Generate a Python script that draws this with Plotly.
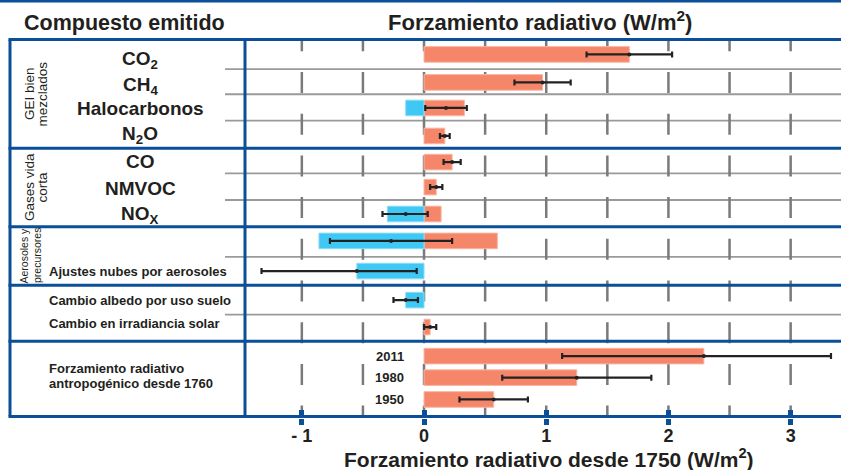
import plotly.graph_objects as go

# rows, top to bottom
rows = ["CO2", "CH4", "Halocarbonos", "N2O", "CO", "NMVOC", "NOx",
        "Aerosoles", "Ajustes nubes", "Albedo", "Solar", "2011", "1980", "1950"]

# positive / negative components (W/m2)
warm = [1.68, 0.97, 0.33, 0.17, 0.23, 0.10, 0.14, 0.60, None, None, 0.05, 2.29, 1.25, 0.57]
cool = [None, None, -0.15, None, None, None, -0.30, -0.86, -0.55, -0.15, None, None, None, None]

# best estimate and uncertainty range
best = [1.68, 0.97, 0.18, 0.17, 0.23, 0.10, -0.15, -0.27, -0.55, -0.15, 0.05, 2.29, 1.25, 0.57]
low = [1.33, 0.74, 0.01, 0.13, 0.16, 0.05, -0.34, -0.77, -1.33, -0.25, 0.00, 1.13, 0.64, 0.29]
high = [2.03, 1.20, 0.35, 0.21, 0.30, 0.15, 0.03, 0.23, -0.06, -0.05, 0.10, 3.33, 1.86, 0.85]

tick_vals = [-1, 0, 1, 2, 3]
tick_text = ["- 1", "0", "1", "2", "3"]
grid_vals = [-1, -0.5, 0, 0.5, 1, 1.5, 2, 2.5, 3]

# layout: row centres and separators in row units (0 = top frame, 14 = bottom frame)
row_pos = [0.55, 1.59, 2.54, 3.58, 4.55, 5.48, 6.48, 7.48, 8.60, 9.68, 10.68, 11.76, 12.56, 13.37]
thin_sep = [1.10, 2.03, 3.01, 4.97, 5.96, 8.07, 10.22]
thick_sep = [0, 4.04, 6.95, 9.13, 11.21, 14]

W, H = 841, 470
ML, MR, MT, MB = 245, 0, 38, 52
PW, PH = W - ML - MR, H - MT - MB
Y0, Y1 = -0.06, 14.06

BLUE = "#0b4f98"
ORANGE = "#f5866a"
CYAN = "#40c8f4"
TXT = "#231f20"
FONT = "Liberation Sans, Arial, sans-serif"


def px(xp):
    return (xp - ML) / PW


def py(yp):
    return (MT + PH - yp) / PH


def ry(yp):
    return Y0 + (yp - MT) / PH * (Y1 - Y0)


fig = go.Figure()

fig.add_trace(go.Bar(y=row_pos, x=warm, orientation="h", width=0.58,
                     marker=dict(color=ORANGE, line=dict(color="#f9b6a2", width=1)),
                     hoverinfo="skip"))
fig.add_trace(go.Bar(y=row_pos, x=cool, orientation="h", width=0.58,
                     marker=dict(color=CYAN, line=dict(color="#8fdcf7", width=1)),
                     hoverinfo="skip"))

err_plus = [h - b for h, b in zip(high, best)]
err_minus = [b - l for b, l in zip(best, low)]
fig.add_trace(go.Scatter(
    x=best, y=row_pos, mode="markers",
    marker=dict(color="#222222", size=4),
    error_x=dict(type="data", symmetric=False, array=err_plus, arrayminus=err_minus,
                 color="#222222", thickness=2.2, width=3),
    hoverinfo="skip"))

shapes = []
# dashed vertical grid
for g in grid_vals:
    shapes.append(dict(type="line", xref="x", yref="y", x0=g, x1=g, y0=ry(30.3), y1=14,
                       line=dict(color="#7a7a7a", width=2.5, dash="21px,20.7px"), layer="below"))
# thin grey separators
for s in thin_sep:
    shapes.append(dict(type="line", xref="paper", yref="y", x0=px(225), x1=1, y0=s, y1=s,
                       line=dict(color="#9a9a9a", width=1.8), layer="below"))
# thick blue separators
for s in thick_sep:
    shapes.append(dict(type="line", xref="paper", yref="y", x0=px(8.5), x1=1, y0=s, y1=s,
                       line=dict(color=BLUE, width=3)))
# vertical frame lines
for xv in [10, 245]:
    shapes.append(dict(type="line", xref="paper", yref="y", x0=px(xv), x1=px(xv), y0=0, y1=14,
                       line=dict(color=BLUE, width=3)))
# top strip of the page
shapes.append(dict(type="line", xref="paper", yref="paper", x0=px(0), x1=1, y0=py(1), y1=py(1),
                   line=dict(color=BLUE, width=3)))

ann = []


def add_text(text, x, y, size, bold=True, xanchor="center", yref="y", angle=0):
    ann.append(dict(text=text, x=x, y=y, xref="paper", yref=yref, showarrow=False,
                    xanchor=xanchor, yanchor="middle", textangle=angle,
                    font=dict(family=FONT, size=size, color=TXT,
                              weight="bold" if bold else "normal")))


add_text("Compuesto emitido", px(124.5), py(23), 21.5, yref="paper")
add_text("Forzamiento radiativo (W/m<sup>2</sup>)", px(540), py(21), 22, yref="paper")
add_text("Forzamiento radiativo desde 1750 (W/m<sup>2</sup>)", px(549), py(457.5), 21, yref="paper")

species = ["CO<sub>2</sub>", "CH<sub>4</sub>", "Halocarbonos", "N<sub>2</sub>O",
           "CO", "NMVOC", "NO<sub>X</sub>"]
sp_y = [ry(60), ry(86), ry(108.5), ry(135), ry(161.5), ry(188), ry(215)]
for t, yv in zip(species, sp_y):
    add_text(t, px(140), yv, 19)

add_text("GEI bien", px(29), ry(94), 13.5, bold=False, angle=-90)
add_text("mezclados", px(41.5), ry(94), 13.5, bold=False, angle=-90)
add_text("Gases vida", px(29), ry(187), 13.5, bold=False, angle=-90)
add_text("corta", px(41.5), ry(187), 13.5, bold=False, angle=-90)
add_text("Aerosoles y", px(23.5), ry(256), 10.5, bold=False, angle=-90)
add_text("precursores", px(37), ry(256), 10.5, bold=False, angle=-90)

add_text("Ajustes nubes por aerosoles", px(47), ry(271.5), 13, xanchor="left")
add_text("Cambio albedo por uso suelo", px(47), ry(300), 13, xanchor="left")
add_text("Cambio en irradiancia solar", px(47), ry(323.5), 13, xanchor="left")
add_text("Forzamiento radiativo", px(47), ry(368), 13, xanchor="left")
add_text("antropogénico desde 1760", px(47), ry(383.5), 13, xanchor="left")

for t, yv in zip(rows[11:], row_pos[11:]):
    add_text(t, px(406), yv, 13, xanchor="right")

fig.update_layout(
    width=W, height=H,
    margin=dict(l=ML, r=MR, t=MT, b=MB),
    paper_bgcolor="white", plot_bgcolor="white",
    barmode="overlay", showlegend=False,
    shapes=shapes, annotations=ann,
    xaxis=dict(range=[-1.465, 3.412], tickvals=tick_vals, ticktext=tick_text,
               ticks="outside", ticklen=6, tickwidth=5, tickcolor=BLUE,
               ticklabelstandoff=-5,
               showgrid=False, zeroline=False, showline=False,
               tickfont=dict(family=FONT, size=18, color=TXT, weight="bold")),
    xaxis2=dict(range=[-1.465, 3.412], overlaying="x", side="bottom", anchor="y",
                tickvals=tick_vals, ticks="inside", ticklen=8, tickwidth=5, tickcolor=BLUE,
                showticklabels=False, showgrid=False, zeroline=False, showline=False),
    yaxis=dict(range=[Y1, Y0], visible=False),
)
# dummy trace so xaxis2 is drawn
fig.add_trace(go.Scatter(x=[None], y=[None], xaxis="x2", showlegend=False, hoverinfo="skip"))

# page has a default 8px body margin; remove it so the figure fills the window
fig.write_html("out.html", config={"displayModeBar": False},
               post_script="document.body.style.margin='0px';")
